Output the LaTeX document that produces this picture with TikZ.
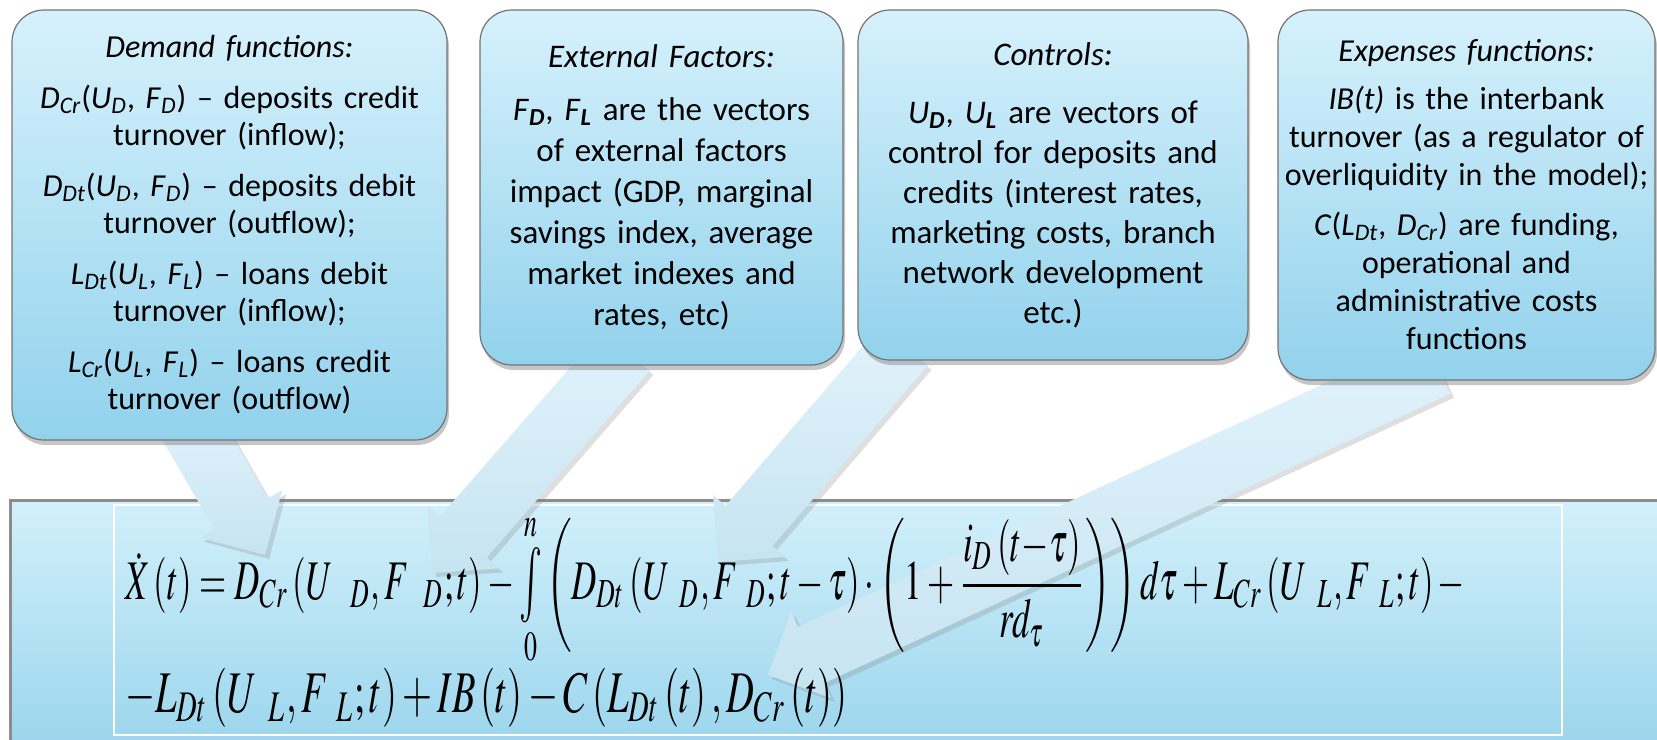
\documentclass[tikz,border=0pt]{standalone}
\usepackage{mathptmx}
\usepackage[no-math]{fontspec}
\setmainfont{Carlito}
\usepackage{graphicx}
\usetikzlibrary{calc,shadows,shadings}
\pgfdeclarelayer{back}
\pgfdeclarelayer{mid}
\pgfsetlayers{back,mid,main}
\definecolor{boxtop}{RGB}{214,241,252}
\definecolor{boxbot}{RGB}{146,210,236}
\definecolor{bigtop}{RGB}{210,240,251}
\definecolor{bigbot}{RGB}{152,212,236}
\definecolor{arrtop}{RGB}{226,243,251}
\definecolor{arrbot}{RGB}{198,228,241}
\newcommand\sbs[1]{\textsubscript{\itshape #1}}
\newcommand\bsb[1]{\textsubscript{\bfseries\itshape #1}}
\newcommand\tallint{\mathop{\vcenter{\hbox{\scalebox{1.1}[1.35]{$\textstyle\int$}}}}}
\newcommand\ws[1]{_{\mkern10mu #1}}
\newcommand\wsa[1]{_{\mkern15mu #1}}
\newcommand\blockarrow[3]{%
  \coordinate (#3b) at ($(#2)!23.75pt!(#1)$);
  \path[blockarr] ($(#1)!15.5pt!90:(#2)$) -- ($(#3b)!15.5pt!90:(#2)$)
    -- ($(#3b)!23.75pt!90:(#2)$) -- (#2) -- ($(#3b)!23.75pt!-90:(#2)$)
    -- ($(#3b)!15.5pt!-90:(#2)$) -- ($(#1)!15.5pt!-90:(#2)$) -- cycle;}
\tikzset{
  topbox/.style={draw=black!55, line width=0.6pt, rounded corners=16pt,
    top color=boxtop, bottom color=boxbot, inner sep=0pt, align=center,
    drop shadow={shadow xshift=1pt, shadow yshift=-2.5pt, opacity=0.45}},
  blockarr/.style={top color=arrtop, bottom color=arrbot, draw=none,
    drop shadow={shadow xshift=2pt, shadow yshift=-2pt, opacity=0.25}},
  eqline/.style={inner sep=0pt, anchor=north west}
}
\begin{document}
\begin{tikzpicture}[x=0.5pt,y=-0.5pt]
\useasboundingbox (0,0) rectangle (1657,739);
\begin{pgfonlayer}{back}
  \fill[top color=bigtop, bottom color=bigbot] (10,500) rectangle (1680,760);
  \draw[black!45, line width=1.5pt] (10,760) -- (10,500) -- (1680,500);
  \draw[white, line width=1pt] (114,505) rectangle (1562,735);
\end{pgfonlayer}

\node[topbox, text width=217.5pt, minimum height=215pt,
  font=\fontsize{16pt}{18.5pt}\selectfont] (demand) at (229.5,225) {%
  \textit{Demand functions:}\\[7pt]
  \textit{D}\sbs{Cr}(\textit{U}\sbs{D}, \textit{F}\sbs{D}) -- deposits credit\\
  turnover (inflow);\\[7pt]
  \textit{D}\sbs{Dt}(\textit{U}\sbs{D}, \textit{F}\sbs{D}) -- deposits debit\\
  turnover (outflow);\\[7pt]
  \textit{L}\sbs{Dt}(\textit{U}\sbs{L}, \textit{F}\sbs{L}) -- loans debit\\
  turnover (inflow);\\[7pt]
  \textit{L}\sbs{Cr}(\textit{U}\sbs{L}, \textit{F}\sbs{L}) -- loans credit\\
  turnover (outflow)};

\node[topbox, text width=181.5pt, minimum height=177.5pt,
  font=\fontsize{16.5pt}{20.5pt}\selectfont] (external) at (661.5,187.5) {%
  \textit{External Factors:}\\[6pt]
  \textit{F}\bsb{D}, \textit{F}\bsb{L} are the vectors\\
  of external factors\\
  impact (GDP, marginal\\
  savings index, average\\
  market indexes and\\
  rates, etc)};

\node[topbox, text width=195pt, minimum height=175pt,
  font=\fontsize{16.5pt}{20pt}\selectfont] (controls) at (1053,185) {%
  \textit{Controls:}\\[9pt]
  \textit{U}\bsb{D}, \textit{U}\bsb{L} are vectors of\\
  control for deposits and\\
  credits (interest rates,\\
  marketing costs, branch\\
  network development\\
  etc.)};

\node[topbox, text width=188.5pt, minimum height=185pt,
  font=\fontsize{16pt}{19pt}\selectfont] (expenses) at (1466.5,195) {%
  \textit{Expenses functions:}\\[5pt]
  \textit{IB(t)} is the interbank\\
  turnover (as a regulator of\\
  overliquidity in the model);\\[6pt]
  \textit{C}(\textit{L}\sbs{Dt}, \textit{D}\sbs{Cr}) are funding,\\
  operational and\\
  administrative costs\\
  functions};

\node[eqline] (eqa) at (125,518) {\resizebox*{669.5pt}{67pt}{$\displaystyle
  \dot{X}\left(t\right)=D_{Cr}\left(U\wsa{D},F\wsa{D};t\right)-\smash{\tallint\limits_{0}^{n}}\left(D_{Dt}\left(U\ws{D},F\ws{D};t-\tau\right)\cdot\left(1+\frac{i_{D}\left(t{-}\tau\right)}{rd_{\tau}}\right)\right)d\tau+L_{Cr}\left(U\ws{L},F\ws{L};t\right)-$}};
\node[eqline] (eqb) at (125,668) {\resizebox*{361pt}{29.5pt}{$\displaystyle
  -L_{Dt}\left(U\ws{L},F\ws{L};t\right)+IB\left(t\right)-C\left(L_{Dt}\left(t\right),D_{Cr}\left(t\right)\right)$}};

\coordinate (t1) at ([shift={(-42.5,-20)}]demand.south);
\coordinate (p1) at (265,555);
\coordinate (t2) at ([shift={(-35.5,-15)}]external.south);
\coordinate (p2) at (432,573);
\coordinate (t3) at ([shift={(-149,-15)}]controls.south);
\coordinate (p3) at (718,562);
\coordinate (t4) at ([shift={(-29.5,-15)}]expenses.south);
\coordinate (p4) at (768,675);
\begin{pgfonlayer}{mid}
  \blockarrow{t1}{p1}{a1}
  \blockarrow{t2}{p2}{a2}
  \blockarrow{t3}{p3}{a3}
  \blockarrow{t4}{p4}{a4}
\end{pgfonlayer}
\end{tikzpicture}
\end{document}
